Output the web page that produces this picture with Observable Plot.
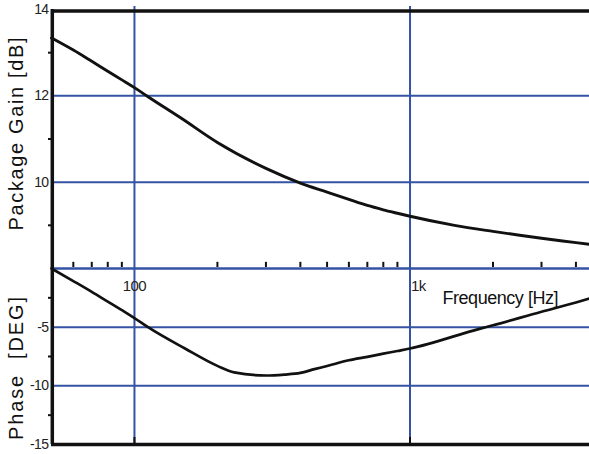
<!DOCTYPE html>
<html>
<head>
<meta charset="utf-8">
<script src="https://cdn.jsdelivr.net/npm/d3@7"></script>
<script src="https://cdn.jsdelivr.net/npm/@observablehq/plot@0.6"></script>
<style>
  body { margin: 0; background: white; }
  #chart { position: relative; width: 589px; height: 454px; }
  #chart svg { position: absolute; left: 0; top: 0; }
</style>
</head>
<body>
<div id="chart"></div>
<script>
// Package gain (dB) versus frequency (Hz)
const gainFreq = [50, 60, 70, 80, 90, 100, 112, 148, 200, 300, 400, 500, 600, 700, 800, 900, 1000, 1450, 2000, 2500, 3000, 4000, 4480];
const gainDb   = [13.34, 13.06, 12.80, 12.57, 12.37, 12.19, 11.98, 11.48, 10.92, 10.32, 9.98, 9.77, 9.60, 9.46, 9.36, 9.28, 9.21, 9.00, 8.86, 8.77, 8.70, 8.60, 8.56];

// Phase (degrees) versus frequency (Hz)
const phaseFreq = [50, 60, 70, 80, 90, 100, 112, 152, 200, 230, 300, 350, 400, 450, 500, 600, 700, 800, 900, 1000, 1800, 2000, 3000, 4000, 4480];
const phaseDeg  = [0, -1.07, -1.99, -2.82, -3.55, -4.22, -5.0, -6.8, -8.3, -8.85, -9.12, -9.04, -8.9, -8.58, -8.31, -7.82, -7.53, -7.26, -7.03, -6.82, -5.12, -4.84, -3.68, -2.9, -2.56];

// Axis ticks and labels
const freqMajor = [100, 1000];
const freqMajorLabels = ["100", "1k"];
const freqMinor = [60, 70, 80, 90, 200, 300, 400, 500, 600, 700, 800, 900, 2000, 3000, 4000];
const gainTicks = [14, 12, 10];
const gainGrid = [12, 10];
const gainMinor = [13, 11, 9];
const phaseTicks = [-5, -10, -15];
const phaseGrid = [-5, -10];
const phaseMinor = [-2.5, -7.5, -12.5];

const freqDomain = [50, 4480];
const gainDomain = [8, 14];
const phaseDomain = [-15, 0];

const blue = "#3453a4";
const ink = "#111";
const font = "'Liberation Sans', Arial, sans-serif";
const W = 589, H = 454;

const gainData = gainFreq.map((f, i) => ({f, v: gainDb[i]}));
const phaseData = phaseFreq.map((f, i) => ({f, v: phaseDeg[i]}));

const common = {
  width: W, height: H,
  marginLeft: 51, marginRight: 0,
  style: {background: "transparent", overflow: "visible", fontFamily: font},
  x: {type: "log", domain: freqDomain, axis: null}
};

// Upper panel: gain
const gainPlot = Plot.plot({
  ...common,
  marginTop: 9, marginBottom: 186,
  y: {domain: gainDomain, axis: null},
  marks: [
    Plot.ruleY(gainGrid, {stroke: blue, strokeWidth: 2}),
    Plot.ruleX(freqMajor, {stroke: blue, strokeWidth: 2, insetTop: -3}),
    Plot.ruleY([gainDomain[0]], {stroke: blue, strokeWidth: 2.5}),
    Plot.ruleX(freqMinor, {y1: gainDomain[0], y2: gainDomain[0] + 0.12, stroke: ink, strokeWidth: 2, dy: -1}),
    Plot.line(gainData, {x: "f", y: "v", stroke: ink, strokeWidth: 2.9, curve: "monotone-x"}),
    Plot.ruleY([gainDomain[1]], {stroke: ink, strokeWidth: 3.5, dy: 1.5}),
    Plot.ruleX([freqDomain[0]], {stroke: ink, strokeWidth: 3.5, dx: 0.8}),
    Plot.ruleY(gainMinor, {x1: freqDomain[0], x2: freqDomain[0], stroke: ink, strokeWidth: 2, insetLeft: -3}),
    Plot.text(gainTicks, {x: freqDomain[0], y: d => d, text: d => String(d), textAnchor: "end", dx: -3, fontSize: 14, fill: "#222"}),
    Plot.text(["Package Gain [dB]"], {frameAnchor: "left", textAnchor: "middle", dx: -35, dy: -5, rotate: -90, fontSize: 20, fill: "#111"})
  ]
});

// Lower panel: phase
const phasePlot = Plot.plot({
  ...common,
  marginTop: 268, marginBottom: 10,
  y: {domain: phaseDomain, axis: null},
  marks: [
    Plot.ruleY(phaseGrid, {stroke: blue, strokeWidth: 2}),
    Plot.ruleX(freqMajor, {stroke: blue, strokeWidth: 2}),
    Plot.ruleX(freqMajor, {y1: phaseDomain[0], y2: phaseDomain[0] + 0.6, stroke: ink, strokeWidth: 2}),
    Plot.line(phaseData, {x: "f", y: "v", stroke: ink, strokeWidth: 2.7, curve: "monotone-x"}),
    Plot.ruleY([phaseDomain[0]], {stroke: ink, strokeWidth: 3.5}),
    Plot.ruleX([freqDomain[0]], {stroke: ink, strokeWidth: 3.5, dx: 0.8}),
    Plot.ruleY(phaseMinor, {x1: freqDomain[0], x2: freqDomain[0], stroke: ink, strokeWidth: 2, insetLeft: -3}),
    Plot.text(phaseTicks, {x: freqDomain[0], y: d => d, text: d => String(d), textAnchor: "end", dx: -3, fontSize: 14, fill: "#222"}),
    Plot.text(freqMajor, {x: d => d, y: phaseDomain[1], text: (d, i) => freqMajorLabels[i], textAnchor: "middle", dy: 18, fontSize: 15, fill: "#222"}),
    Plot.text(["Frequency [Hz]"], {frameAnchor: "top-right", dx: -31, dy: 23, textAnchor: "end", fontSize: 18, fill: "#111"}),
    Plot.text(["Phase  [DEG]"], {frameAnchor: "left", textAnchor: "middle", dx: -35, dy: 12, rotate: -90, fontSize: 20, fill: "#111"})
  ]
});

// "1k" sits just right of its grid line rather than centred on it
d3.select(phasePlot).selectAll("text").filter(function() { return this.textContent === "1k"; })
  .attr("text-anchor", "start").attr("dx", 1);
// set lengths of the axis titles; tighten the numeric labels
const titleLengths = {"Package Gain [dB]": 193, "Phase  [DEG]": 143, "Frequency [Hz]": 116};
d3.selectAll([gainPlot, phasePlot]).selectAll("text").each(function() {
  const t = this.textContent;
  if (t in titleLengths) {
    this.setAttribute("textLength", titleLengths[t]);
    this.setAttribute("lengthAdjust", "spacing");
  } else {
    this.style.letterSpacing = "-0.6px";
  }
});

const chart = document.getElementById("chart");
chart.appendChild(gainPlot);
chart.appendChild(phasePlot);
</script>
</body>
</html>
